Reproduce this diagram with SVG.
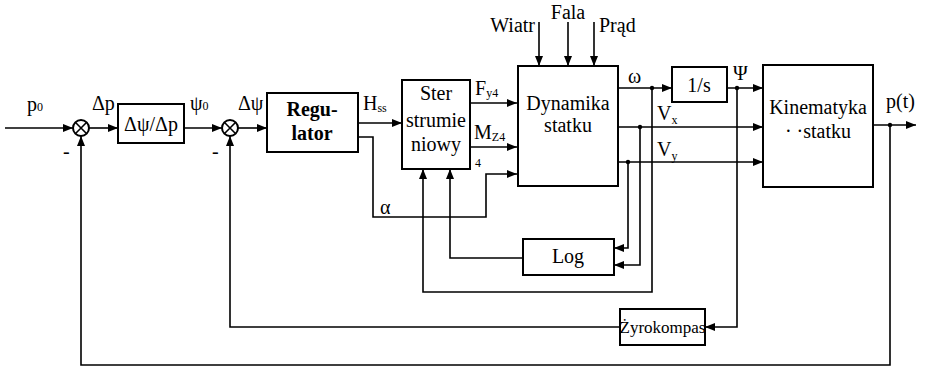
<svg xmlns="http://www.w3.org/2000/svg" width="925" height="369" viewBox="0 0 925 369">
<style>
.b{fill:#fff;stroke:#000;stroke-width:2}
.w{fill:none;stroke:#000;stroke-width:1.6}
text{font-family:'Liberation Serif','DejaVu Serif',serif;font-size:20px;fill:#000}
.s{font-size:12px}
.bd{font-weight:bold}
.z{font-size:17px}
</style>
<defs>
<marker id="a" viewBox="0 0 10 8" refX="10" refY="4" markerWidth="10" markerHeight="8" markerUnits="userSpaceOnUse" orient="auto">
<path d="M0,0L10,4L0,8Z" fill="#000"/>
</marker>
</defs>
<g id="connectors">
<path class="w" d="M5,128H73" marker-end="url(#a)"/>
<path class="w" d="M89,128H118" marker-end="url(#a)"/>
<path class="w" d="M184,128H222" marker-end="url(#a)"/>
<path class="w" d="M238,128H267" marker-end="url(#a)"/>
<path class="w" d="M358,123H402" marker-end="url(#a)"/>
<path class="w" d="M358,137H373V217H486V174H517" marker-end="url(#a)"/>
<path class="w" d="M470,103H517" marker-end="url(#a)"/>
<path class="w" d="M470,147H517" marker-end="url(#a)"/>
<path class="w" d="M539,22V66" marker-end="url(#a)"/>
<path class="w" d="M568,22V66" marker-end="url(#a)"/>
<path class="w" d="M594,22V66" marker-end="url(#a)"/>
<path class="w" d="M618,88H672" marker-end="url(#a)"/>
<path class="w" d="M727,88H763" marker-end="url(#a)"/>
<path class="w" d="M618,127H763" marker-end="url(#a)"/>
<path class="w" d="M618,162H763" marker-end="url(#a)"/>
<path class="w" d="M873,125H916" marker-end="url(#a)"/>
<path class="w" d="M628,162V248H614" marker-end="url(#a)"/>
<path class="w" d="M640,127V265H614" marker-end="url(#a)"/>
<path class="w" d="M523,258H450V169" marker-end="url(#a)"/>
<path class="w" d="M652,88V292H423V169" marker-end="url(#a)"/>
<path class="w" d="M737,88V327H705" marker-end="url(#a)"/>
<path class="w" d="M620,327H230V136" marker-end="url(#a)"/>
<path class="w" d="M890,125V365H81V136" marker-end="url(#a)"/>
<circle cx="652" cy="88" r="2.2"/>
<circle cx="640" cy="127" r="2.2"/>
<circle cx="628" cy="162" r="2.2"/>
<circle cx="737" cy="88" r="2.2"/>
<circle cx="890" cy="125" r="2.2"/>
</g>
<g id="sum1">
<circle class="b" cx="81" cy="128" r="8"/>
<path class="w" d="M75.3,122.3L86.7,133.7M86.7,122.3L75.3,133.7"/>
<text x="63" y="158">-</text>
</g>
<g id="sum2">
<circle class="b" cx="230" cy="128" r="8"/>
<path class="w" d="M224.3,122.3L235.7,133.7M235.7,122.3L224.3,133.7"/>
<text x="212" y="158">-</text>
</g>
<g id="labels">
<text x="27" y="111">p<tspan class="s" dy="0">0</tspan></text>
<text x="92" y="110">Δp</text>
<text x="190" y="110">ψ<tspan class="s" dy="0">0</tspan></text>
<text x="238" y="110">Δψ</text>
<text x="363" y="110">H<tspan class="s" dy="2">ss</tspan></text>
<text x="380" y="214">α</text>
<text x="475" y="95">F<tspan class="s" dy="2">y4</tspan></text>
<text x="474" y="139">M<tspan class="s" dy="2">Z4</tspan></text>
<text class="s" x="475" y="167">4</text>
<text x="535" y="32" text-anchor="end">Wiatr</text>
<text x="568" y="19" text-anchor="middle">Fala</text>
<text x="599" y="32">Prąd</text>
<text x="628" y="83">ω</text>
<text x="657" y="120">V<tspan class="s" dy="4">x</tspan></text>
<text x="657" y="156">V<tspan class="s" dy="4">y</tspan></text>
<text x="733" y="80">Ψ</text>
<text x="886" y="108">p(t)</text>
</g>
<g id="dpsi">
<rect class="b" x="118" y="104" width="66" height="39"/>
<text x="151" y="131" text-anchor="middle">Δψ/Δp</text>
</g>
<g id="regulator">
<rect class="b" x="267" y="93" width="91" height="59"/>
<text class="bd" x="312" y="116" text-anchor="middle">Regu-</text>
<text class="bd" x="312" y="140" text-anchor="middle">lator</text>
</g>
<g id="ster">
<rect class="b" x="402" y="80" width="68" height="89"/>
<text x="436" y="100" text-anchor="middle">Ster</text>
<text x="436" y="127" text-anchor="middle">strumie</text>
<text x="436" y="151" text-anchor="middle">niowy</text>
</g>
<g id="dynamika">
<rect class="b" x="518" y="66" width="100" height="120"/>
<text x="568" y="110" text-anchor="middle">Dynamika</text>
<text x="568" y="132" text-anchor="middle">statku</text>
</g>
<g id="integrator">
<rect class="b" x="672" y="67" width="55" height="35"/>
<text x="699" y="92" text-anchor="middle">1/s</text>
</g>
<g id="kinematyka">
<rect class="b" x="763" y="65" width="110" height="122"/>
<text x="818" y="114" text-anchor="middle">Kinematyka</text>
<text x="818" y="138" text-anchor="middle">· ·statku</text>
</g>
<g id="log">
<rect class="b" x="523" y="239" width="91" height="36"/>
<text x="568" y="263" text-anchor="middle">Log</text>
</g>
<g id="zyrokompas">
<rect class="b" x="620" y="309" width="85" height="36"/>
<text class="z" x="662.5" y="333" text-anchor="middle">Żyrokompas</text>
</g>
</svg>
